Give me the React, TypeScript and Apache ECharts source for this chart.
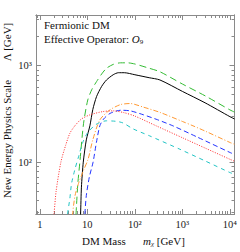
import React, { useEffect, useRef } from "react";
import * as echarts from "echarts";

// ---- data ----
const xMin = 0.83;
const xMax = 12500;
const yMin = 29;
const yMax = 3350;

const xMajorTicks = [1, 10, 100, 1000, 10000];
const xMinorTicks = [0.9, 2, 3, 4, 5, 6, 7, 8, 9, 20, 30, 40, 50, 60, 70, 80, 90, 200, 300, 400, 500, 600, 700, 800, 900, 2000, 3000, 4000, 5000, 6000, 7000, 8000, 9000];
const xTickLabels: Record<number, string> = { 1: "1", 10: "10", 100: "10²", 1000: "10³", 10000: "10⁴" };
const yMajorTicks = [100, 1000];
const yMinorTicks = [30, 40, 50, 60, 70, 80, 90, 200, 300, 400, 500, 600, 700, 800, 900, 2000, 3000];
const yTickLabels: Record<number, string> = { 100: "10²", 1000: "10³" };

const greenMass = [5.6, 5.9, 6.3, 6.95, 8.3, 10.2, 12.5, 15.6, 20, 25.3, 35, 50, 70, 100, 200, 336, 1000, 3000, 10000, 12500];
const greenLambda = [22, 35, 60, 100, 250, 441, 570, 683, 820, 940, 1030, 1070, 1070, 1040, 940, 865, 645, 487, 348, 330];

const blackMass = [7.0, 7.2, 7.5, 8.2, 9.5, 11.3, 13, 15.6, 20, 25.3, 35, 45, 60, 100, 200, 336, 1000, 3000, 10000, 12500];
const blackLambda = [22, 29, 55, 100, 170, 238, 350, 478, 610, 711, 805, 845, 845, 805, 750, 711, 541, 412, 296, 280];

const orangeMass = [4.7, 4.88, 5.5, 6.5, 8.2, 10.4, 13, 18.3, 29.8, 50, 80, 150, 336, 1000, 1670, 3000, 10000, 12500];
const orangeLambda = [22, 29, 45, 60, 81, 108, 170, 274, 348, 395, 405, 372, 328, 264, 238, 210, 160, 153];

const blueMass = [8.7, 8.86, 9.5, 11, 13.2, 15.5, 18.3, 22, 30, 50, 80, 150, 300, 630, 2000, 10000, 12500];
const blueLambda = [24, 29, 45, 70, 100, 160, 238, 280, 320, 345, 340, 310, 275, 238, 183, 126, 120];

const redMass = [1.9, 2.0, 2.2, 2.77, 3.5, 4.3, 5.46, 7.5, 11.3, 21, 35, 60, 100, 280, 1000, 3000, 10000, 12500];
const redLambda = [24, 30, 50, 100, 150, 200, 238, 280, 309, 334, 340, 325, 300, 238, 179, 140, 107, 102];

const cyanMass = [3.7, 3.83, 4.28, 4.65, 5.5, 6.4, 8, 10, 15, 25, 40, 56, 92, 200, 885, 3000, 10000, 12500];
const cyanLambda = [24, 29, 42, 60, 85, 110, 160, 200, 245, 268, 265, 255, 221, 188, 136, 103, 78, 75];

const zip = (xs: number[], ys: number[]) => xs.map((x, i) => [x, ys[i]]);

const SERIF = "'Liberation Serif', 'DejaVu Serif', serif";
const AXIS_COLOR = "#8a8a8a";

function makeX(position: "bottom" | "top", values: number[], len: number, labels: boolean) {
  return {
    type: "log",
    logBase: 10,
    position,
    min: xMin,
    max: xMax,
    axisLine: { show: true, lineStyle: { color: AXIS_COLOR, width: 1 } },
    axisTick: { show: true, inside: true, length: len, customValues: values, lineStyle: { color: AXIS_COLOR, width: 1 } },
    axisLabel: labels
      ? {
          show: true,
          customValues: xMajorTicks,
          margin: 5,
          fontFamily: SERIF,
          fontSize: 10.5,
          color: "#222",
          formatter: (v: number) => xTickLabels[Math.round(v)] ?? "",
        }
      : { show: false },
    splitLine: { show: false },
    minorTick: { show: false },
  };
}

function makeY(position: "left" | "right", values: number[], len: number, labels: boolean) {
  return {
    type: "log",
    logBase: 10,
    position,
    min: yMin,
    max: yMax,
    axisLine: { show: true, lineStyle: { color: AXIS_COLOR, width: 1 } },
    axisTick: { show: true, inside: true, length: len, customValues: values, lineStyle: { color: AXIS_COLOR, width: 1 } },
    axisLabel: labels
      ? {
          show: true,
          customValues: yMajorTicks,
          margin: 4,
          fontFamily: SERIF,
          fontSize: 10.5,
          color: "#222",
          formatter: (v: number) => yTickLabels[Math.round(v)] ?? "",
        }
      : { show: false },
    splitLine: { show: false },
    minorTick: { show: false },
  };
}

function line(name: string, data: number[][], color: string, type: any, width = 1) {
  return {
    name,
    type: "line",
    xAxisIndex: 0,
    yAxisIndex: 0,
    data,
    showSymbol: false,
    smooth: 0.25,
    clip: true,
    lineStyle: { color, width, type },
  };
}

export default function App() {
  const ref = useRef<HTMLDivElement>(null);
  useEffect(() => {
    if (!ref.current) return;
    const chart = echarts.init(ref.current, undefined, { renderer: "svg" });
    chart.setOption({
      animation: false,
      backgroundColor: "#fff",
      grid: { left: 36, right: 5, top: 15, bottom: 38, containLabel: false },
      xAxis: [
        makeX("bottom", xMajorTicks, 5, true),
        makeX("bottom", xMinorTicks, 3, false),
        makeX("top", xMajorTicks, 5, false),
        makeX("top", xMinorTicks, 3, false),
      ],
      yAxis: [
        makeY("left", yMajorTicks, 5, true),
        makeY("left", yMinorTicks, 3, false),
        makeY("right", yMajorTicks, 5, false),
        makeY("right", yMinorTicks, 3, false),
      ],
      series: [
        line("green", zip(greenMass, greenLambda), "#33bb33", [7, 4]),
        line("black", zip(blackMass, blackLambda), "#000000", "solid"),
        line("orange", zip(orangeMass, orangeLambda), "#ff9933", [5, 2, 1, 2]),
        line("blue", zip(blueMass, blueLambda), "#2233ff", [5, 3]),
        line("red", zip(redMass, redLambda), "#ff2a2a", [1, 1.5]),
        line("cyan", zip(cyanMass, cyanLambda), "#22c4c4", [4, 4]),
      ],
      graphic: [
        {
          type: "text",
          left: 44,
          top: 19,
          style: { text: "Fermionic DM", font: `11px ${SERIF}`, fill: "#111" },
        },
        {
          type: "text",
          left: 44,
          top: 33,
          style: {
            text: "Effective Operator: {i|O}{s|9}",
            font: `11px ${SERIF}`,
            fill: "#111",
            rich: {
              i: { fontFamily: SERIF, fontSize: 11, fontStyle: "italic", fill: "#111" },
              s: { fontFamily: SERIF, fontSize: 7, fill: "#111", padding: [6, 0, 0, 0] },
            },
          },
        },
        {
          type: "text",
          x: 7,
          y: 139,
          rotation: Math.PI / 2,
          style: { text: "New Energy Physics Scale", font: `11px ${SERIF}`, fill: "#111", align: "center", verticalAlign: "middle" },
        },
        {
          type: "text",
          x: 7,
          y: 42,
          rotation: Math.PI / 2,
          style: { text: "Λ [GeV]", font: `11px ${SERIF}`, fill: "#111", align: "center", verticalAlign: "middle" },
        },
        {
          type: "text",
          x: 82,
          y: 241,
          style: { text: "DM Mass", font: `11px ${SERIF}`, fill: "#111", align: "left", verticalAlign: "middle" },
        },
        {
          type: "text",
          x: 143,
          y: 241,
          style: {
            text: "{i|m}{s|χ} [GeV]",
            font: `11px ${SERIF}`,
            fill: "#111",
            align: "left",
            verticalAlign: "middle",
            rich: {
              i: { fontFamily: SERIF, fontSize: 11, fontStyle: "italic", fill: "#111" },
              s: { fontFamily: SERIF, fontSize: 7, fontStyle: "italic", fill: "#111", padding: [6, 0, 0, 0] },
            },
          },
        },
      ],
    });
    return () => chart.dispose();
  }, []);
  return <div ref={ref} style={{ position: "fixed", left: 0, top: 0, width: 240, height: 252 }} />;
}
